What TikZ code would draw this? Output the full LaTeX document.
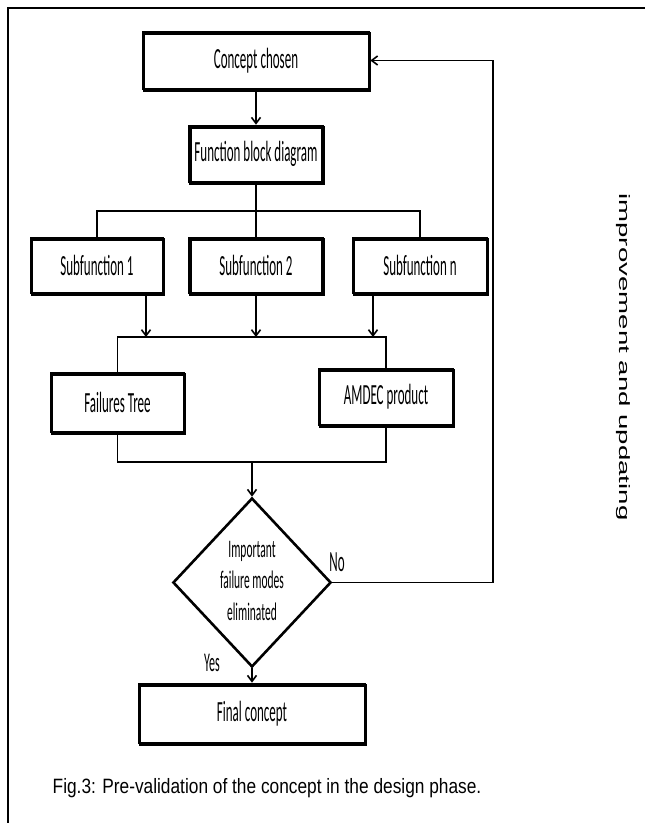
\documentclass[tikz,border=0pt]{standalone}
\usepackage{fontspec}
\setmainfont{Carlito}
\newfontfamily\arialfont{Liberation Sans}
\usetikzlibrary{arrows.meta,shapes.geometric,shadows}
% flowchart labels are set tall and narrow
\newcommand{\flowtxt}[1]{\scalebox{1}[2.25]{#1}}

\begin{document}
\begin{tikzpicture}[x=1pt,y=-1pt,
  box/.style={draw, line width=2.6pt, inner sep=0pt, font=\fontsize{13}{15}\selectfont,
    general shadow={shadow xshift=1pt, shadow yshift=-1.2pt, draw, line width=2.6pt}},
  decision/.style={draw, diamond, line width=2.6pt, inner sep=0pt, aspect=1},
  link/.style={line width=1.6pt},
  arr/.style={link, -{Straight Barb[length=6pt,width=9pt,line width=1.6pt]}},
  lbl/.style={inner sep=0pt},
]
\useasboundingbox (0,0) rectangle (645,823);

% page frame (top and left edges)
\draw[line width=2.8pt] (8,830) -- (8,8) -- (650,8);

% process boxes
\node[box, minimum width=226pt, minimum height=57pt] (concept) at (256,60.5) {\flowtxt{Concept chosen}};
\node[box, minimum width=133pt, minimum height=56pt] (fbd) at (256,154) {\flowtxt{Function block diagram}};
\node[box, minimum width=132pt, minimum height=55pt] (sub1) at (97,265.5) {\flowtxt{Subfunction 1}};
\node[box, minimum width=133pt, minimum height=55pt] (sub2) at (256,265.5) {\flowtxt{Subfunction 2}};
\node[box, minimum width=134pt, minimum height=55pt] (subn) at (420,265.5) {\flowtxt{Subfunction n}};
\node[box, minimum width=133pt, minimum height=59pt] (ftree) at (117.5,402.5) {\flowtxt{Failures Tree}};
\node[box, minimum width=134pt, minimum height=56pt] (amdec) at (386,397) {\flowtxt{AMDEC product}};
\node[decision, minimum width=157pt, minimum height=169pt] (dec) at (252,582.5)
  {\scalebox{1}[2.2]{\fontsize{11.5}{14.3}\selectfont\begin{tabular}{@{}c@{}}Important\\failure modes\\eliminated\end{tabular}}};
\node[box, minimum width=226pt, minimum height=59pt] (final) at (252,713.5) {\flowtxt{Final concept}};

% junction points of the buses
\coordinate (bus1) at (256,211);
\coordinate (in1) at (146,337);
\coordinate (in2) at (256,337);
\coordinate (in3) at (373,337);
\coordinate (bus3) at (252,462);
\coordinate (fb) at (493,60.5);

% connectors
\draw[arr] (concept) -- (fbd);
\draw[link] (fbd.south) -- (sub2.north);
\draw[link] (sub1.north) |- (bus1) -| (subn.north);
\draw[arr] (sub1.south -| in1) -- (in1);
\draw[arr] (sub2.south) -- (in2);
\draw[arr] (subn.south -| in3) -- (in3);
\draw[link] (ftree.north) |- (in2) -| (amdec.north);
\draw[link] (ftree.south) |- (bus3) -| (amdec.south);
\draw[arr] (bus3) -- (dec.north);
\draw[arr] (dec.south) -- (final.north);
\draw[arr] (dec.east) -| (fb) -- (concept.east);

% branch labels
\node[lbl, font=\fontsize{13}{15}\selectfont] (no) at (337,562) {\flowtxt{No}};
\node[lbl, font=\fontsize{12}{14}\selectfont] (yes) at (212,663) {\flowtxt{Yes}};
\node[lbl, rotate=-90, font=\arialfont\fontsize{15}{17}\selectfont] (upd) at (623,357)
  {\resizebox{327pt}{\height}{improvement and updating}};

% caption
\node[lbl, font=\arialfont\fontsize{17.3}{20}\selectfont] (cap) at (267,788)
  {\scalebox{1}[1.2]{Fig.3: Pre-validation of the concept in the design phase.}};
\end{tikzpicture}
\end{document}
